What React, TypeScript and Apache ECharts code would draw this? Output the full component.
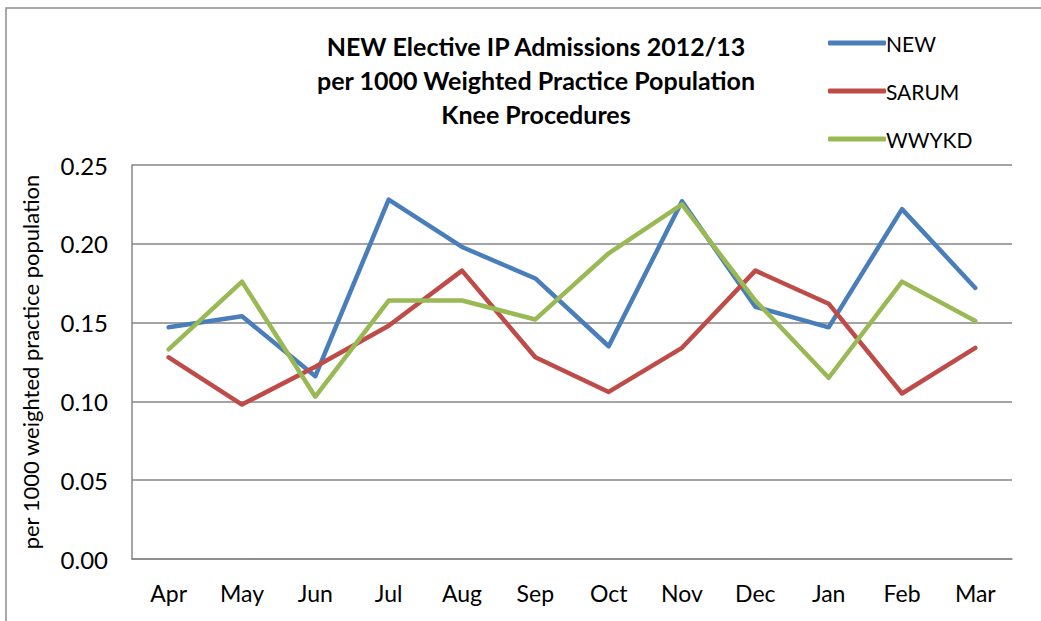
import React, { useEffect, useRef } from "react";
import * as echarts from "echarts";

const months = ["Apr", "May", "Jun", "Jul", "Aug", "Sep", "Oct", "Nov", "Dec", "Jan", "Feb", "Mar"];
const newValues = [0.147, 0.154, 0.116, 0.228, 0.198, 0.178, 0.135, 0.227, 0.160, 0.147, 0.222, 0.172];
const sarumValues = [0.128, 0.098, 0.122, 0.148, 0.183, 0.128, 0.106, 0.134, 0.183, 0.162, 0.105, 0.134];
const wwykdValues = [0.133, 0.176, 0.103, 0.164, 0.164, 0.152, 0.194, 0.225, 0.164, 0.115, 0.176, 0.151];
const yTicks = { min: 0, max: 0.25, interval: 0.05 };

const FONT = "Lato, 'Open Sans', sans-serif";

export default function App() {
  const ref = useRef<HTMLDivElement>(null);
  useEffect(() => {
    if (!ref.current) return;
    const chart = echarts.init(ref.current, null, { renderer: "svg" });
    const mkSeries = (name: string, data: number[], color: string) => ({
      name,
      type: "line",
      data,
      symbol: "none",
      lineStyle: { width: 4.5, color, cap: "round", join: "round" },
      itemStyle: { color },
    });
    chart.setOption({
      animation: false,
      backgroundColor: "#ffffff",
      textStyle: { fontFamily: FONT },
      title: {
        text: "NEW Elective IP Admissions 2012/13\nper 1000 Weighted Practice Population\nKnee Procedures",
        left: 531,
        top: 24,
        textAlign: "center",
        textStyle: { fontFamily: FONT, fontSize: 25, fontWeight: "bold", color: "#000", lineHeight: 34 },
      },
      legend: {
        orient: "vertical",
        left: 823,
        top: 27,
        itemWidth: 58,
        itemHeight: 5,
        itemGap: 26,
        icon: "roundRect",
        textStyle: { fontFamily: FONT, fontSize: 21, color: "#000", lineHeight: 22, padding: [0, 0, 0, -5] },
        data: ["NEW", "SARUM", "WWYKD"],
      },
      graphic: [
        {
          type: "rect",
          shape: { x: 6, y: 8, width: 1200, height: 800 },
          style: { fill: "none", stroke: "#8c8c8c", lineWidth: 1.5 },
          silent: true,
          z: -1,
        },
      ],
      grid: { left: 132, top: 165, right: 29, bottom: 62 },
      xAxis: {
        type: "category",
        data: months,
        boundaryGap: true,
        axisLine: { lineStyle: { color: "#868686", width: 1.5 } },
        axisTick: { show: false },
        axisLabel: { fontFamily: FONT, fontSize: 23, color: "#000", margin: 22 },
      },
      yAxis: {
        type: "value",
        min: yTicks.min,
        max: yTicks.max,
        interval: yTicks.interval,
        name: "per 1000 weighted practice population",
        nameLocation: "middle",
        nameGap: 91,
        nameTextStyle: { fontFamily: FONT, fontSize: 22, color: "#000" },
        axisLine: { show: true, lineStyle: { color: "#868686", width: 1.5 } },
        axisTick: { show: false },
        splitLine: { lineStyle: { color: "#868686", width: 1.5 } },
        axisLabel: { fontFamily: FONT, fontSize: 24, color: "#000", margin: 24, formatter: (v: number) => v.toFixed(2) },
      },
      series: [
        mkSeries("NEW", newValues, "#4A7EBB"),
        mkSeries("SARUM", sarumValues, "#BE4B48"),
        mkSeries("WWYKD", wwykdValues, "#98B954"),
      ],
    });
    return () => chart.dispose();
  }, []);
  return (
    <div
      ref={ref}
      style={{ position: "fixed", left: 0, top: 0, width: 1041, height: 621, background: "#fff" }}
    />
  );
}
